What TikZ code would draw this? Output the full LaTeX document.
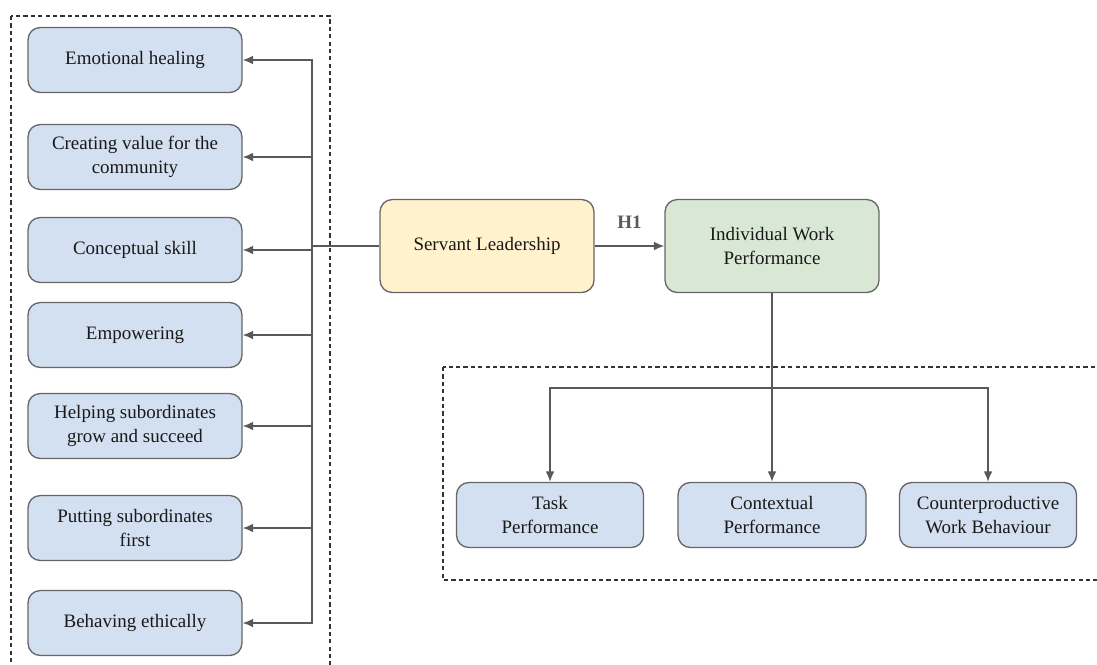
\documentclass[tikz,border=0pt]{standalone}
\usepackage{fontspec}
\setmainfont{Liberation Serif}
\usetikzlibrary{shapes,arrows.meta,calc}
\definecolor{boxblue}{HTML}{D3E0F1}
\definecolor{boxyellow}{HTML}{FFF2CC}
\definecolor{boxgreen}{HTML}{D9E8D5}
\definecolor{edgegray}{HTML}{666666}
\definecolor{linegray}{HTML}{595959}
\tikzstyle{line} = [draw=linegray, line width=0.85pt, -{Latex[length=6pt,width=5pt]}]
\tikzstyle{block} = [draw=edgegray, line width=0.75pt, fill=boxblue, rectangle, rounded corners=7pt, align=center, text=black!90, minimum width=4.28cm, minimum height=1.3cm, font=\rmfamily\fontsize{10.8}{13.7}\selectfont]
\tikzstyle{frame} = [draw=black!80, line width=0.7pt, dash pattern=on 2.4pt off 1.8pt]

\begin{document}
\begin{tikzpicture}[x=0.02cm, y=-0.02cm]
        \useasboundingbox (0,0) rectangle (1097,664);
        % dashed groups
        \draw[frame] (11,16) rectangle (330,672);
        \draw[frame] (443,367) rectangle (1102,580);
        % dimensions of servant leadership
        \node[block] (emotional) at (135,60) {Emotional healing};
        \node[block] (value) at (135,157) {Creating value for the\\community};
        \node[block] (concept) at (135,250) {Conceptual skill};
        \node[block] (empower) at (135,335) {Empowering};
        \node[block] (helping) at (135,426) {Helping subordinates\\grow and succeed};
        \node[block] (putting) at (135,528) {Putting subordinates\\first};
        \node[block] (ethical) at (135,623) {Behaving ethically};
        % main constructs
        \node[block, fill=boxyellow, minimum height=1.86cm] (servant) at (487,246) {Servant Leadership};
        \node[block, fill=boxgreen, minimum height=1.86cm] (iwp) at (772,246) {Individual Work\\Performance};
        % dimensions of work performance
        \node[block, minimum width=3.74cm, minimum height=1.3cm] (task) at (550,515) {Task\\Performance};
        \node[block, minimum width=3.76cm, minimum height=1.3cm] (context) at (772,515) {Contextual\\Performance};
        \node[block, minimum width=3.54cm, minimum height=1.3cm] (counter) at (988,515) {Counterproductive\\Work Behaviour};
        \coordinate (bus) at (312,246);
        \coordinate (split) at (772,388);
        \draw[draw=linegray, line width=0.85pt] (servant.west) -- (bus);
        \foreach \dim in {emotional,value,concept,empower,helping,putting,ethical}
            \path[line] (bus) |- (\dim.east);
        \path[line] (servant) -- node[above=6pt, text=linegray, font=\rmfamily\fontsize{10.8}{13}\selectfont\bfseries] {H1} (iwp);
        \path[line] (iwp.south) -- (context.north);
        \path[line] (split) -| (task.north);
        \path[line] (split) -| (counter.north);
    \end{tikzpicture}
\end{document}
